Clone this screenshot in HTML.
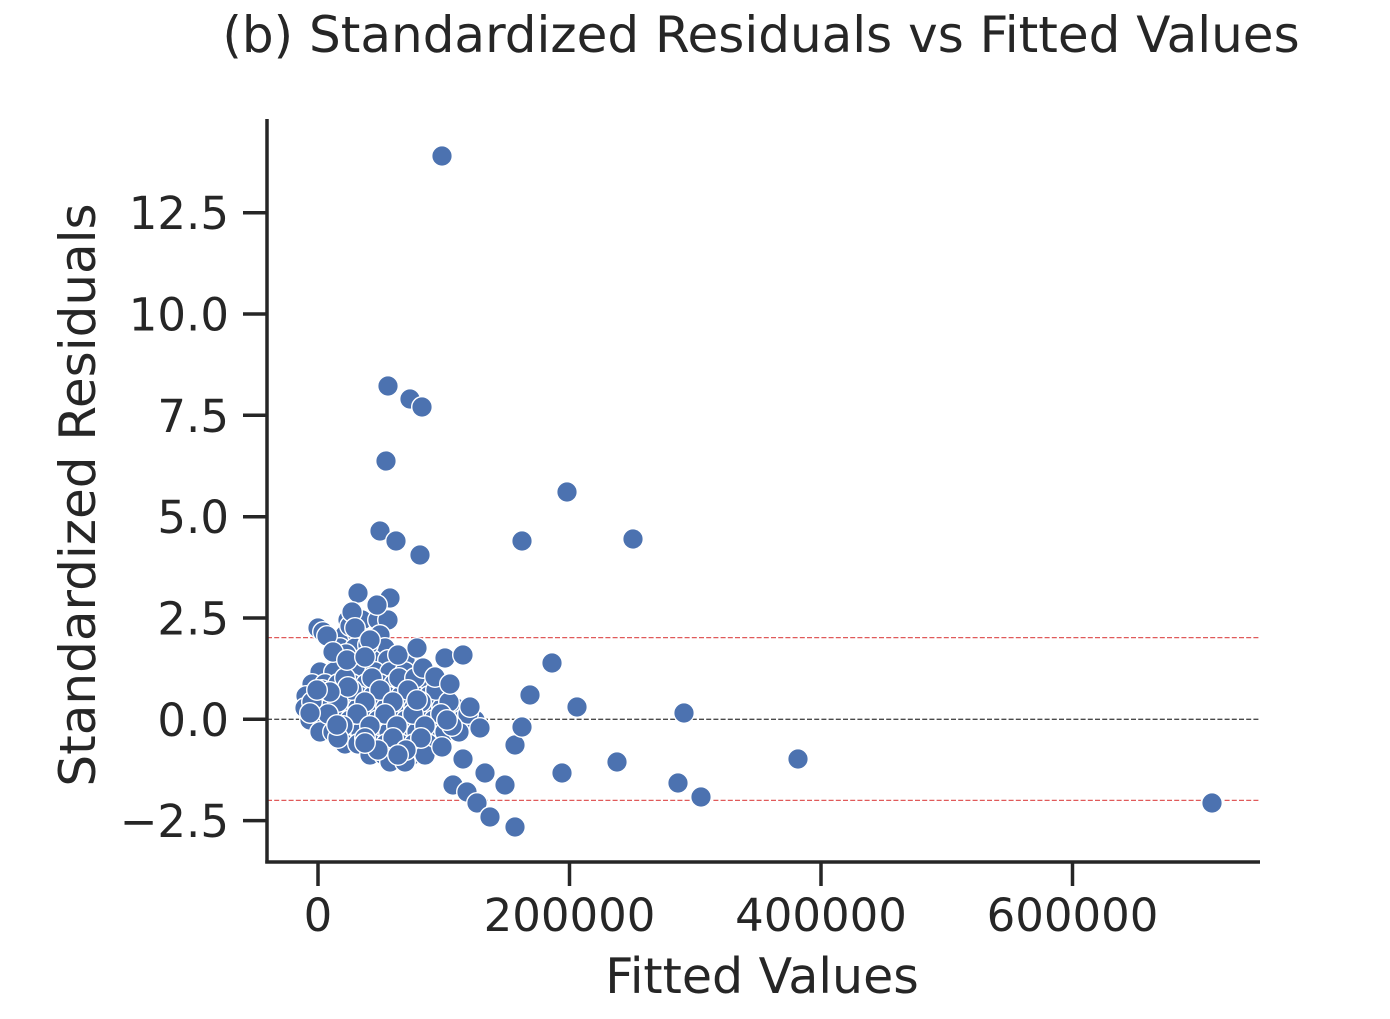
<!DOCTYPE html>
<html>
<head>
<meta charset="utf-8">
<style>
  html, body { margin: 0; padding: 0; background: #ffffff; }
  svg { display: block; }
  text { font-family: "DejaVu Sans", "Liberation Sans", sans-serif; fill: #262626; }
</style>
</head>
<body>
<svg width="1390" height="1019" viewBox="0 0 1390 1019" xmlns="http://www.w3.org/2000/svg">
  <rect x="0" y="0" width="1390" height="1019" fill="#ffffff"/>

  <!-- Title -->
  <text x="761" y="52" font-size="50" text-anchor="middle">(b) Standardized Residuals vs Fitted Values</text>

  <!-- reference lines -->
  <line x1="267" y1="637.6" x2="1260" y2="637.6" stroke="#e05a5a" stroke-width="1.3" stroke-dasharray="5,2.2"/>
  <line x1="267" y1="800.4" x2="1260" y2="800.4" stroke="#e05a5a" stroke-width="1.3" stroke-dasharray="5,2.2"/>
  <line x1="267" y1="719.3" x2="1260" y2="719.3" stroke="#4a4a4a" stroke-width="1.3" stroke-dasharray="5,2.2"/>

  <!-- points -->
  <g fill="#4C72B0" stroke="#ffffff" stroke-width="1.4">
    <!-- dense cluster fill: upper lobe -->
    <circle cx="348" cy="620" r="10.3"/><circle cx="362" cy="620" r="10.3"/><circle cx="378" cy="620" r="10.3"/><circle cx="388" cy="620" r="10.3"/>
    <circle cx="345" cy="635" r="10.3"/><circle cx="358" cy="635" r="10.3"/><circle cx="380" cy="635" r="10.3"/>
    <circle cx="340" cy="648" r="10.3"/><circle cx="355" cy="648" r="10.3"/><circle cx="385" cy="648" r="10.3"/>
    <circle cx="338" cy="660" r="10.3"/><circle cx="352" cy="660" r="10.3"/><circle cx="372" cy="660" r="10.3"/><circle cx="388" cy="660" r="10.3"/><circle cx="405" cy="660" r="10.3"/>
    <!-- dense cluster fill: lower body -->
    <circle cx="320" cy="672" r="10.3"/><circle cx="334" cy="672" r="10.3"/><circle cx="360" cy="672" r="10.3"/><circle cx="375" cy="672" r="10.3"/><circle cx="390" cy="672" r="10.3"/><circle cx="405" cy="672" r="10.3"/>
    <circle cx="312" cy="684" r="10.3"/><circle cx="325" cy="684" r="10.3"/><circle cx="338" cy="684" r="10.3"/><circle cx="352" cy="684" r="10.3"/><circle cx="366" cy="684" r="10.3"/><circle cx="380" cy="684" r="10.3"/><circle cx="394" cy="684" r="10.3"/><circle cx="408" cy="684" r="10.3"/><circle cx="422" cy="684" r="10.3"/>
    <circle cx="306" cy="696" r="10.3"/><circle cx="318" cy="696" r="10.3"/><circle cx="331" cy="696" r="10.3"/><circle cx="345" cy="696" r="10.3"/><circle cx="359" cy="696" r="10.3"/><circle cx="373" cy="696" r="10.3"/><circle cx="387" cy="696" r="10.3"/><circle cx="401" cy="696" r="10.3"/><circle cx="415" cy="696" r="10.3"/><circle cx="429" cy="696" r="10.3"/><circle cx="443" cy="696" r="10.3"/>
    <circle cx="305" cy="708" r="10.3"/><circle cx="317" cy="708" r="10.3"/><circle cx="330" cy="708" r="10.3"/><circle cx="344" cy="708" r="10.3"/><circle cx="358" cy="708" r="10.3"/><circle cx="372" cy="708" r="10.3"/><circle cx="386" cy="708" r="10.3"/><circle cx="400" cy="708" r="10.3"/><circle cx="414" cy="708" r="10.3"/><circle cx="428" cy="708" r="10.3"/><circle cx="442" cy="708" r="10.3"/><circle cx="456" cy="708" r="10.3"/>
    <circle cx="310" cy="720" r="10.3"/><circle cx="323" cy="720" r="10.3"/><circle cx="336" cy="720" r="10.3"/><circle cx="350" cy="720" r="10.3"/><circle cx="364" cy="720" r="10.3"/><circle cx="378" cy="720" r="10.3"/><circle cx="392" cy="720" r="10.3"/><circle cx="406" cy="720" r="10.3"/><circle cx="420" cy="720" r="10.3"/><circle cx="434" cy="720" r="10.3"/><circle cx="448" cy="720" r="10.3"/><circle cx="462" cy="720" r="10.3"/><circle cx="475" cy="720" r="10.3"/>
    <circle cx="320" cy="732" r="10.3"/><circle cx="333" cy="732" r="10.3"/><circle cx="347" cy="732" r="10.3"/><circle cx="361" cy="732" r="10.3"/><circle cx="375" cy="732" r="10.3"/><circle cx="389" cy="732" r="10.3"/><circle cx="403" cy="732" r="10.3"/><circle cx="417" cy="732" r="10.3"/><circle cx="431" cy="732" r="10.3"/><circle cx="445" cy="732" r="10.3"/><circle cx="459" cy="732" r="10.3"/>
    <circle cx="345" cy="744" r="10.3"/><circle cx="358" cy="744" r="10.3"/><circle cx="372" cy="744" r="10.3"/><circle cx="386" cy="744" r="10.3"/><circle cx="400" cy="744" r="10.3"/><circle cx="414" cy="744" r="10.3"/><circle cx="428" cy="744" r="10.3"/>
    <circle cx="370" cy="755" r="10.3"/><circle cx="384" cy="755" r="10.3"/><circle cx="398" cy="755" r="10.3"/><circle cx="412" cy="755" r="10.3"/><circle cx="425" cy="755" r="10.3"/>
    <circle cx="390" cy="762" r="10.3"/><circle cx="405" cy="762" r="10.3"/>

    <!-- staggered layer to break grid regularity -->
    <circle cx="345" cy="678" r="10.3"/><circle cx="372" cy="678" r="10.3"/><circle cx="399" cy="678" r="10.3"/><circle cx="415" cy="678" r="10.3"/>
    <circle cx="322" cy="690" r="10.3"/><circle cx="352" cy="690" r="10.3"/><circle cx="380" cy="690" r="10.3"/><circle cx="408" cy="690" r="10.3"/><circle cx="436" cy="690" r="10.3"/>
    <circle cx="312" cy="702" r="10.3"/><circle cx="338" cy="702" r="10.3"/><circle cx="365" cy="702" r="10.3"/><circle cx="393" cy="702" r="10.3"/><circle cx="421" cy="702" r="10.3"/><circle cx="449" cy="702" r="10.3"/>
    <circle cx="328" cy="714" r="10.3"/><circle cx="357" cy="714" r="10.3"/><circle cx="385" cy="714" r="10.3"/><circle cx="413" cy="714" r="10.3"/><circle cx="441" cy="714" r="10.3"/><circle cx="468" cy="714" r="10.3"/>
    <circle cx="343" cy="726" r="10.3"/><circle cx="370" cy="726" r="10.3"/><circle cx="397" cy="726" r="10.3"/><circle cx="425" cy="726" r="10.3"/><circle cx="452" cy="726" r="10.3"/>
    <circle cx="338" cy="738" r="10.3"/><circle cx="365" cy="738" r="10.3"/><circle cx="393" cy="738" r="10.3"/><circle cx="421" cy="738" r="10.3"/>
    <circle cx="378" cy="750" r="10.3"/><circle cx="406" cy="750" r="10.3"/>
    <circle cx="350" cy="626" r="10.3"/><circle cx="368" cy="645" r="10.3"/><circle cx="346" cy="654" r="10.3"/>

    <!-- distinct points -->
    <circle cx="318" cy="628" r="10.3"/><circle cx="323" cy="632" r="10.3"/><circle cx="327" cy="636" r="10.3"/>
    <circle cx="358" cy="593" r="10.3"/><circle cx="390" cy="598" r="10.3"/><circle cx="377" cy="605" r="10.3"/>
    <circle cx="352" cy="612" r="10.3"/><circle cx="355" cy="628" r="10.3"/><circle cx="370" cy="640" r="10.3"/>
    <circle cx="333" cy="652" r="10.3"/><circle cx="347" cy="660" r="10.3"/><circle cx="365" cy="657" r="10.3"/>
    <circle cx="398" cy="655" r="10.3"/><circle cx="417" cy="648" r="10.3"/><circle cx="445" cy="658" r="10.3"/>
    <circle cx="463" cy="655" r="10.3"/><circle cx="423" cy="668" r="10.3"/><circle cx="435" cy="677" r="10.3"/>
    <circle cx="450" cy="684" r="10.3"/><circle cx="348" cy="687" r="10.3"/><circle cx="330" cy="692" r="10.3"/>
    <circle cx="317" cy="690" r="10.3"/><circle cx="417" cy="700" r="10.3"/><circle cx="470" cy="707" r="10.3"/>
    <circle cx="310" cy="713" r="10.3"/><circle cx="337" cy="725" r="10.3"/><circle cx="447" cy="720" r="10.3"/>
    <circle cx="480" cy="728" r="10.3"/><circle cx="365" cy="743" r="10.3"/><circle cx="398" cy="755" r="10.3"/>
    <circle cx="442" cy="747" r="10.3"/><circle cx="463" cy="759" r="10.3"/>
    <circle cx="485" cy="773" r="10.3"/><circle cx="453" cy="785" r="10.3"/><circle cx="467" cy="792" r="10.3"/>
    <circle cx="505" cy="785" r="10.3"/><circle cx="477" cy="803" r="10.3"/><circle cx="490" cy="817" r="10.3"/>
    <circle cx="515" cy="827" r="10.3"/><circle cx="515" cy="745" r="10.3"/><circle cx="522" cy="727" r="10.3"/>

    <circle cx="442" cy="156" r="10.3"/>
    <circle cx="388" cy="386" r="10.3"/>
    <circle cx="410" cy="399" r="10.3"/>
    <circle cx="422" cy="407" r="10.3"/>
    <circle cx="386" cy="461" r="10.3"/>
    <circle cx="567" cy="492" r="10.3"/>
    <circle cx="380" cy="531" r="10.3"/>
    <circle cx="396" cy="541" r="10.3"/>
    <circle cx="522" cy="541" r="10.3"/>
    <circle cx="633" cy="539" r="10.3"/>
    <circle cx="420" cy="555" r="10.3"/>
    <circle cx="552" cy="663" r="10.3"/>
    <circle cx="530" cy="695" r="10.3"/>
    <circle cx="577" cy="707" r="10.3"/>
    <circle cx="684" cy="713" r="10.3"/>
    <circle cx="798" cy="759" r="10.3"/>
    <circle cx="617" cy="762" r="10.3"/>
    <circle cx="562" cy="773" r="10.3"/>
    <circle cx="678" cy="783" r="10.3"/>
    <circle cx="701" cy="797" r="10.3"/>
    <circle cx="1212" cy="803" r="10.3"/>
  </g>

  <!-- spines -->
  <line x1="267" y1="119" x2="267" y2="863.5" stroke="#262626" stroke-width="3.5"/>
  <line x1="265.3" y1="862" x2="1260" y2="862" stroke="#262626" stroke-width="3.5"/>

  <!-- y ticks -->
  <g stroke="#262626" stroke-width="3.5">
    <line x1="243" y1="212.7" x2="267" y2="212.7"/>
    <line x1="243" y1="314.0" x2="267" y2="314.0"/>
    <line x1="243" y1="415.3" x2="267" y2="415.3"/>
    <line x1="243" y1="516.7" x2="267" y2="516.7"/>
    <line x1="243" y1="618.0" x2="267" y2="618.0"/>
    <line x1="243" y1="719.3" x2="267" y2="719.3"/>
    <line x1="243" y1="820.6" x2="267" y2="820.6"/>
  </g>
  <g font-size="45" text-anchor="end">
    <text x="229" y="229.2">12.5</text>
    <text x="229" y="330.5">10.0</text>
    <text x="229" y="431.8">7.5</text>
    <text x="229" y="533.2">5.0</text>
    <text x="229" y="634.5">2.5</text>
    <text x="229" y="735.8">0.0</text>
    <text x="229" y="837.1">−2.5</text>
  </g>

  <!-- x ticks -->
  <g stroke="#262626" stroke-width="3.5">
    <line x1="318" y1="862" x2="318" y2="886"/>
    <line x1="569.5" y1="862" x2="569.5" y2="886"/>
    <line x1="821" y1="862" x2="821" y2="886"/>
    <line x1="1072.5" y1="862" x2="1072.5" y2="886"/>
  </g>
  <g font-size="45" text-anchor="middle">
    <text x="318" y="931">0</text>
    <text x="569.5" y="931">200000</text>
    <text x="821" y="931">400000</text>
    <text x="1072.5" y="931">600000</text>
  </g>

  <!-- axis labels -->
  <text x="762" y="993" font-size="49" text-anchor="middle">Fitted Values</text>
  <text transform="translate(95,495) rotate(-90)" font-size="50" text-anchor="middle">Standardized Residuals</text>
</svg>
</body>
</html>
